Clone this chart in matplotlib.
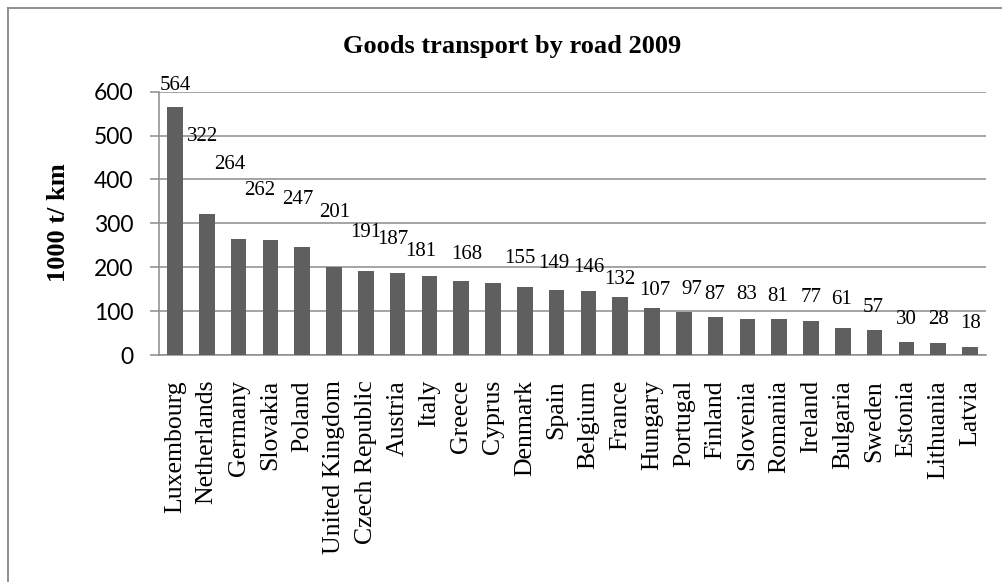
import matplotlib
matplotlib.use("Agg")
import matplotlib.pyplot as plt
from matplotlib.lines import Line2D
import numpy as np

# goods transport by road, 2009 (1000 t/km)
countries = ["Luxembourg", "Netherlands", "Germany", "Slovakia", "Poland",
             "United Kingdom", "Czech Republic", "Austria", "Italy", "Greece",
             "Cyprus", "Denmark", "Spain", "Belgium", "France", "Hungary",
             "Portugal", "Finland", "Slovenia", "Romania", "Ireland",
             "Bulgaria", "Sweden", "Estonia", "Lithuania", "Latvia"]
values = [564, 322, 264, 262, 247, 201, 191, 187, 181, 168, 163, 155, 149,
          146, 132, 107, 97, 87, 83, 81, 77, 61, 57, 30, 28, 18]
# Cyprus has no data label
show_label = [True] * 10 + [False] + [True] * 15

# where the value labels sit (data units), staggered like the spreadsheet did
label_y = [615, 497, 433, 374, 355, 325, 280, 264, 235, 230, 0, 220, 209,
           200, 172, 148, 150, 138, 137, 134, 130, 127, 108, 80, 81, 72]
label_dx = [0, -0.13, -0.28, -0.35, -0.13, 0.03, 0, -0.16, -0.27, 0.16, 0,
            -0.17, -0.1, 0, 0, 0.1, 0.24, -0.03, -0.03, -0.06, 0, -0.04,
            -0.06, 0, 0, 0]

serif = "Liberation Serif"
grey = "#8c8c8c"

fig = plt.figure(figsize=(10.03, 5.82), dpi=100)
ax = fig.add_axes([159 / 1003, 1 - 355 / 582, (986 - 159) / 1003, (355 - 91.7) / 582])

x = np.arange(len(countries))
ax.bar(x, values, width=0.49, color="#5f5f5f", zorder=3)

for i, v in enumerate(values):
    if show_label[i]:
        ax.text(i + label_dx[i], label_y[i], str(v), ha="center", va="center",
                family=serif, fontsize=15, color="black", zorder=4)

ax.set_xlim(-0.5, len(countries) - 0.5)
ax.set_ylim(0, 600)
ax.set_yticks(range(0, 601, 100))
ax.yaxis.grid(True, color=grey, lw=1.1, zorder=0)
ax.set_axisbelow(True)

for s in ["top", "right"]:
    ax.spines[s].set_visible(False)
ax.spines["left"].set_color(grey)
ax.spines["left"].set_linewidth(1.1)
ax.spines["bottom"].set_color(grey)
ax.spines["bottom"].set_linewidth(1.1)

ax.tick_params(axis="y", length=6.5, width=1.1, color=grey, pad=12,
               labelsize=16.5)
for lab in ax.get_yticklabels():
    lab.set_family("Lato")

ax.set_xticks(x)
ax.set_xticklabels(countries, rotation=90, family=serif, fontsize=18.5)
ax.tick_params(axis="x", length=0, pad=18)

fig.text(512 / 1003, 1 - 53 / 582, "Goods transport by road 2009",
         ha="center", va="baseline", family=serif, fontsize=19,
         fontweight="bold")
fig.text(59 / 1003, 1 - 222.5 / 582, "1000 t/ km", rotation=90,
         ha="center", va="center", family=serif, fontsize=19,
         fontweight="bold")

# chart frame: only left and top edges fall inside the image
fig.add_artist(Line2D([8.5 / 1003, 8.5 / 1003], [0, 1 - 7.5 / 582],
                      transform=fig.transFigure, color="#878787", lw=1.3))
fig.add_artist(Line2D([8.5 / 1003, 1], [1 - 7.5 / 582, 1 - 7.5 / 582],
                      transform=fig.transFigure, color="#878787", lw=1.3))

fig.savefig("out.png", dpi=100, facecolor="white")
